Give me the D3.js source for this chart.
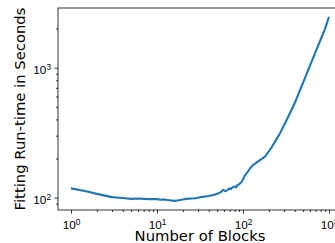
<!DOCTYPE html>
<html>
<head>
<meta charset="utf-8">
<script src="https://cdn.jsdelivr.net/npm/d3@7"></script>
<style>
  body { margin: 0; background: #fff; }
  svg { display: block; font-family: "DejaVu Sans", sans-serif; }
</style>
</head>
<body>
<svg id="chart" width="335" height="243"></svg>
<script>
// blocks vs fitting run-time (seconds)
const blocks = [1, 1.5, 2, 3, 4, 5, 6, 7, 8, 10, 11, 12, 14, 16, 18, 20, 22, 25, 28, 30,
  33, 36, 40, 45, 50, 55, 59, 62, 65, 70, 72, 75, 80, 83, 86, 90, 94, 97,
  105, 110, 120, 132, 150, 180, 210, 236, 270, 322, 400, 500, 600, 700, 800, 900, 1000];
const runtime = [118, 112, 107, 101, 99.5, 98, 98.5, 98, 97.5, 97.5, 96.5, 97, 95.5, 94.5, 95.5, 97, 98, 98.5, 99, 100,
  101.5, 102, 103, 105, 107, 110, 115, 112, 114, 118, 116, 120, 122, 120, 125, 127, 130, 133,
  148, 154, 167, 179, 190, 207, 238, 270, 315, 396, 535, 769, 1035, 1331, 1648, 1991, 2466];

const xMajor = [1, 10, 100, 1000];
const xMinor = [2, 3, 4, 5, 6, 7, 8, 9, 20, 30, 40, 50, 60, 70, 80, 90, 200, 300, 400, 500, 600, 700, 800, 900];
const yMajor = [100, 1000];
const yMinor = [90, 200, 300, 400, 500, 600, 700, 800, 900, 2000];

const svg = d3.select('#chart');

// plot box (right edge falls outside the picture, as in the reference)
const pLeft = 58, pRight = 342, pTop = 8, pBottom = 210;

const x = d3.scaleLog().domain([1, 1000]).range([71, 329]);
const y = d3.scaleLog().domain([100, 1000]).range([197.7, 67.7]);

svg.append('defs').append('clipPath').attr('id', 'clip')
  .append('rect').attr('x', pLeft).attr('y', pTop)
  .attr('width', pRight - pLeft).attr('height', pBottom - pTop);

// line
const line = d3.line()
  .x((d, i) => x(blocks[i]))
  .y(d => y(d));

svg.append('path')
  .datum(runtime)
  .attr('clip-path', 'url(#clip)')
  .attr('fill', 'none')
  .attr('stroke', '#1f77b4')
  .attr('stroke-width', 2.1)
  .attr('stroke-linejoin', 'round')
  .attr('d', line);

// superscript tick labels
function powLabel(sel) {
  sel.selectAll('.tick text').each(function(d) {
    const t = d3.select(this);
    if (!t.text()) return;
    const p = Math.round(Math.log10(d));
    t.text(null);
    t.append('tspan').text('10');
    t.append('tspan').attr('dy', '-0.45em').attr('font-size', '8.3px').text(p);
  });
}

function styleAxis(g) {
  g.select('.domain').remove();
  g.selectAll('.tick line').attr('stroke', '#000').attr('stroke-width', 0.8);
  g.selectAll('.tick text').attr('fill', '#000').attr('font-size', '11.8px');
}

// x axis
const gxMinor = svg.append('g').attr('transform', `translate(0,${pBottom})`)
  .call(d3.axisBottom(x).tickValues(xMinor).tickSize(2).tickFormat(''));
styleAxis(gxMinor);
const gx = svg.append('g').attr('transform', `translate(0,${pBottom})`)
  .call(d3.axisBottom(x).tickValues(xMajor).tickSize(3.5).tickPadding(4).tickFormat(d => 'x'));
styleAxis(gx);
powLabel(gx);
gx.selectAll('.tick text').attr('dy', '0.95em');

// y axis
const gyMinor = svg.append('g').attr('transform', `translate(${pLeft},0)`)
  .call(d3.axisLeft(y).tickValues(yMinor).tickSize(2).tickFormat(''));
styleAxis(gyMinor);
const gy = svg.append('g').attr('transform', `translate(${pLeft},0)`)
  .call(d3.axisLeft(y).tickValues(yMajor).tickSize(3.5).tickPadding(3.5).tickFormat(d => 'x'));
styleAxis(gy);
powLabel(gy);
gy.selectAll('.tick text').attr('dy', '0.45em');

// spines
svg.append('rect')
  .attr('x', pLeft).attr('y', pTop)
  .attr('width', pRight - pLeft).attr('height', pBottom - pTop)
  .attr('fill', 'none').attr('stroke', '#000').attr('stroke-width', 0.8);

// axis titles
svg.append('text')
  .attr('x', (pLeft + pRight) / 2).attr('y', 240.5)
  .attr('text-anchor', 'middle')
  .attr('font-size', '14.8px')
  .text('Number of Blocks');

svg.append('text')
  .attr('transform', `translate(25,${(pTop + pBottom) / 2}) rotate(-90)`)
  .attr('text-anchor', 'middle')
  .attr('font-size', '14.8px')
  .text('Fitting Run-time in Seconds');
</script>
</body>
</html>
